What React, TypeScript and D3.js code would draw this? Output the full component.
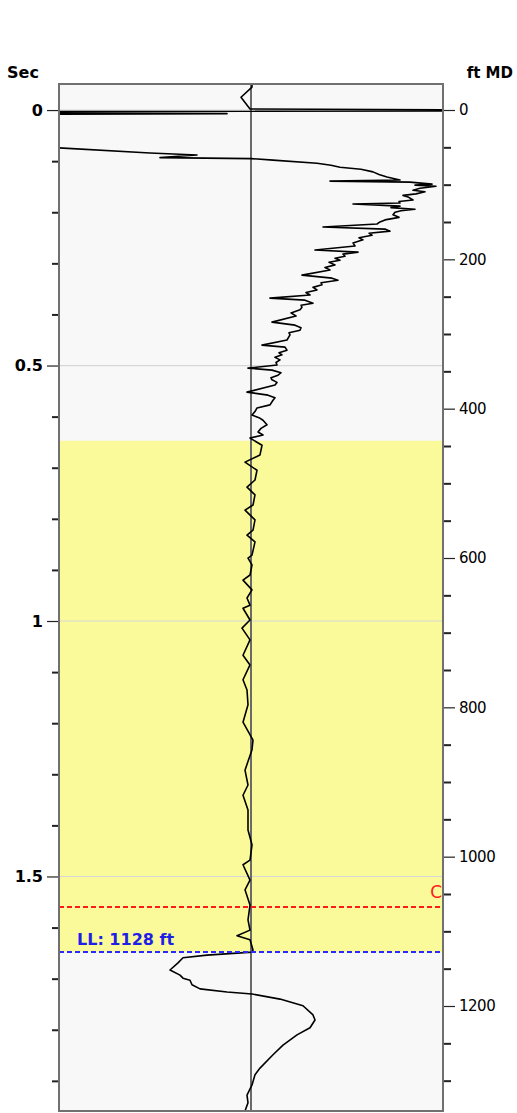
import React, { useEffect, useRef } from 'react';
import * as d3 from 'd3';

// Trace samples: [two-way time (sec), amplitude (arbitrary units)]
const trace: [number, number][] = [
  [-0.051, 1], [-0.045, 1], [-0.025, -10], [-0.002, -1], [0.001, 449], [0.004, -551], [0.007, -24], [0.010, -551],
  [0.072, -551], [0.074, -192], [0.084, -101], [0.088, -54], [0.093, -91], [0.095, 0], [0.098, 22], [0.104, 66],
  [0.108, 80], [0.112, 89], [0.116, 110], [0.121, 122], [0.126, 128], [0.131, 136], [0.137, 149], [0.139, 79],
  [0.141, 159], [0.145, 181], [0.147, 164], [0.149, 185], [0.153, 169], [0.157, 162], [0.160, 174], [0.164, 165],
  [0.167, 152], [0.170, 157], [0.176, 162], [0.179, 148], [0.182, 149], [0.184, 102], [0.188, 149], [0.191, 140],
  [0.194, 164], [0.197, 150], [0.200, 144], [0.205, 142], [0.210, 148], [0.215, 134], [0.219, 129], [0.223, 126],
  [0.229, 72], [0.233, 134], [0.237, 139], [0.241, 118], [0.245, 121], [0.250, 108], [0.254, 112], [0.260, 102],
  [0.266, 104], [0.274, 64], [0.278, 107], [0.282, 92], [0.286, 94], [0.290, 84], [0.294, 89], [0.298, 78],
  [0.303, 84], [0.308, 74], [0.313, 79], [0.323, 51], [0.329, 81], [0.333, 87], [0.338, 70], [0.342, 71],
  [0.347, 62], [0.352, 66], [0.357, 55], [0.362, 59], [0.368, 19], [0.372, 54], [0.378, 62], [0.382, 50],
  [0.386, 51], [0.391, 49], [0.397, 40], [0.403, 45], [0.415, 21], [0.421, 44], [0.426, 50], [0.431, 49],
  [0.436, 38], [0.440, 39], [0.450, 36], [0.460, 11], [0.464, 34], [0.470, 36], [0.475, 28], [0.479, 31],
  [0.484, 24], [0.489, 29], [0.494, 25], [0.499, 26], [0.505, -3], [0.509, 21], [0.514, 30], [0.519, 27],
  [0.524, 20], [0.528, 21], [0.533, 26], [0.538, 24], [0.552, -4], [0.558, 17], [0.563, 24], [0.568, 22],
  [0.577, 19], [0.583, 6], [0.590, 4], [0.597, 1], [0.602, 8], [0.607, 12], [0.616, 16], [0.623, 10],
  [0.630, 7], [0.636, 12], [0.642, -1], [0.656, 11], [0.675, 9], [0.689, -6], [0.705, 6], [0.724, 4],
  [0.738, -4], [0.753, 4], [0.773, 2], [0.783, -6], [0.802, 4], [0.822, 2], [0.832, -4], [0.845, 4],
  [0.871, 1], [0.877, -3], [0.890, 1], [0.910, -1], [0.920, -8], [0.939, 1], [0.955, -4], [0.969, -1],
  [0.975, -8], [0.998, -1], [1.014, -9], [1.037, -1], [1.067, -8], [1.086, -1], [1.115, -8], [1.135, -4],
  [1.164, -3], [1.198, -8], [1.233, 2], [1.252, 1], [1.292, -6], [1.321, -3], [1.341, -8], [1.370, -3],
  [1.409, -3], [1.438, 1], [1.468, -1], [1.477, -8], [1.507, -1], [1.526, -6], [1.556, -1], [1.585, -3],
  [1.605, -1], [1.616, -14], [1.624, -1], [1.644, 2], [1.648, 1], [1.654, -44], [1.659, -68], [1.669, -73],
  [1.683, -81], [1.693, -71], [1.699, -68], [1.703, -61], [1.712, -59], [1.720, -51], [1.726, -24], [1.730, 1],
  [1.740, 29], [1.753, 52], [1.771, 62], [1.781, 64], [1.796, 59], [1.810, 46], [1.830, 32], [1.849, 22],
  [1.875, 9], [1.888, 4], [1.908, 1], [1.928, -4], [1.943, -3], [1.959, -6],
];

const timeTicks = [0, 0.5, 1, 1.5];
const timeMinorTicks = [0.1, 0.2, 0.3, 0.4, 0.6, 0.7, 0.8, 0.9, 1.1, 1.2, 1.3, 1.4, 1.6, 1.7, 1.8, 1.9];
const depthTicks = [0, 200, 400, 600, 800, 1000, 1200];
const depthMinorTicks = [50, 100, 150, 250, 300, 350, 450, 500, 550, 650, 700, 750, 850, 900, 950, 1050, 1100, 1150, 1250, 1300];

const zoneTopFt = 443;
const zoneBottomFt = 1128;
const markerFt = 1068;
const markerLabel = 'C';
const llLabel = 'LL: 1128 ft';

const App: React.FC = () => {
  const svgRef = useRef<SVGSVGElement>(null);
  const width = 517;
  const height = 1113;

  useEffect(() => {
    if (!svgRef.current) return;
    d3.select(svgRef.current).selectAll('*').remove();

    const svg = d3.select(svgRef.current).attr('width', width).attr('height', height);
    const margin = { top: 84, right: 74, bottom: 2, left: 59 };
    const left = margin.left;
    const right = width - margin.right;
    const top = margin.top;
    const bottom = height - margin.bottom;

    const yTime = d3.scaleLinear().domain([-0.051, 1.959]).range([top, bottom]);
    const yFt = d3.scaleLinear().domain([0, 1200]).range([110, 1006]);
    const xAmp = d3.scaleLinear().domain([-192, 192]).range([left, right]);

    const font = '"DejaVu Sans", Verdana, sans-serif';

    // background
    svg.append('rect')
      .attr('x', left).attr('y', top)
      .attr('width', right - left).attr('height', bottom - top)
      .attr('fill', '#f8f8f8');

    // yellow zone
    svg.append('rect')
      .attr('x', left).attr('y', yFt(zoneTopFt))
      .attr('width', right - left).attr('height', yFt(zoneBottomFt) - yFt(zoneTopFt))
      .attr('fill', '#fafa9a');

    // grid lines
    svg.append('g').selectAll('line')
      .data(timeTicks)
      .enter()
      .append('line')
      .attr('x1', left).attr('x2', right)
      .attr('y1', d => yTime(d)).attr('y2', d => yTime(d))
      .attr('stroke', '#d6d6d6')
      .attr('stroke-width', 1.2);

    // center line
    svg.append('line')
      .attr('x1', xAmp(0)).attr('x2', xAmp(0))
      .attr('y1', top).attr('y2', bottom)
      .attr('stroke', '#6a6a6a')
      .attr('stroke-width', 2);

    // trace
    svg.append('defs').append('clipPath').attr('id', 'plot-clip')
      .append('rect')
      .attr('x', left).attr('y', top)
      .attr('width', right - left).attr('height', bottom - top);

    const line = d3.line<[number, number]>()
      .x(d => xAmp(d[1]))
      .y(d => yTime(d[0]));

    svg.append('path')
      .datum(trace)
      .attr('clip-path', 'url(#plot-clip)')
      .attr('d', line)
      .attr('fill', 'none')
      .attr('stroke', '#000')
      .attr('stroke-width', 1.6)
      .attr('stroke-linejoin', 'round');

    // marker lines
    svg.append('line')
      .attr('x1', left).attr('x2', right)
      .attr('y1', yFt(markerFt)).attr('y2', yFt(markerFt))
      .attr('stroke', '#ff1a1a')
      .attr('stroke-width', 2)
      .attr('stroke-dasharray', '5,3')
      .attr('shape-rendering', 'crispEdges');

    svg.append('text')
      .attr('x', right - 1)
      .attr('y', yFt(markerFt) - 9)
      .attr('text-anchor', 'end')
      .style('font-family', font)
      .style('font-size', '17px')
      .style('fill', '#ff1a1a')
      .text(markerLabel);

    svg.append('line')
      .attr('x1', left).attr('x2', right)
      .attr('y1', yFt(zoneBottomFt)).attr('y2', yFt(zoneBottomFt))
      .attr('stroke', '#2a2aff')
      .attr('stroke-width', 2)
      .attr('stroke-dasharray', '5,3')
      .attr('shape-rendering', 'crispEdges');

    svg.append('text')
      .attr('x', 77)
      .attr('y', yFt(zoneBottomFt) - 7)
      .style('font-family', font)
      .style('font-size', '16px')
      .style('font-weight', 'bold')
      .style('fill', '#1f1fe6')
      .text(llLabel);

    // frame
    svg.append('rect')
      .attr('x', left).attr('y', top)
      .attr('width', right - left).attr('height', bottom - top)
      .attr('fill', 'none')
      .attr('stroke', '#707070')
      .attr('stroke-width', 2);

    // left axis (Sec)
    const leftAxis = svg.append('g')
      .attr('transform', `translate(${left - 1},0)`)
      .call(d3.axisLeft(yTime).tickValues(timeTicks).tickSize(11).tickPadding(4).tickFormat(d => String(d)));
    leftAxis.select('.domain').remove();
    leftAxis.selectAll('line').attr('stroke', '#222').attr('stroke-width', 1.2);
    leftAxis.selectAll('text')
      .style('font-family', font)
      .style('font-size', '16px')
      .style('font-weight', 'bold')
      .style('fill', '#000');

    const leftMinor = svg.append('g')
      .attr('transform', `translate(${left - 1},0)`)
      .call(d3.axisLeft(yTime).tickValues(timeMinorTicks).tickSize(6).tickFormat(() => ''));
    leftMinor.select('.domain').remove();
    leftMinor.selectAll('line').attr('stroke', '#222').attr('stroke-width', 2);

    // right axis (ft MD)
    const rightAxis = svg.append('g')
      .attr('transform', `translate(${right + 1},0)`)
      .call(d3.axisRight(yFt).tickValues(depthTicks).tickSize(11).tickPadding(4).tickFormat(d => String(d)));
    rightAxis.select('.domain').remove();
    rightAxis.selectAll('line').attr('stroke', '#222').attr('stroke-width', 1.2);
    rightAxis.selectAll('text')
      .style('font-family', font)
      .style('font-size', '15px')
      .style('letter-spacing', '-0.5px')
      .style('fill', '#000');

    const rightMinor = svg.append('g')
      .attr('transform', `translate(${right + 1},0)`)
      .call(d3.axisRight(yFt).tickValues(depthMinorTicks).tickSize(7).tickFormat(() => ''));
    rightMinor.select('.domain').remove();
    rightMinor.selectAll('line').attr('stroke', '#222').attr('stroke-width', 2);

    // axis titles
    svg.append('text')
      .attr('x', 7)
      .attr('y', 78)
      .style('font-family', font)
      .style('font-size', '16px')
      .style('font-weight', 'bold')
      .text('Sec');

    svg.append('text')
      .attr('x', 513)
      .attr('y', 78)
      .attr('text-anchor', 'end')
      .style('font-family', font)
      .style('font-size', '15px')
      .style('font-weight', 'bold')
      .text('ft MD');
  }, []);

  return (
    <svg
      ref={svgRef}
      style={{ position: 'absolute', left: 0, top: 0, display: 'block', background: '#fff' }}
    />
  );
};

export default App;
